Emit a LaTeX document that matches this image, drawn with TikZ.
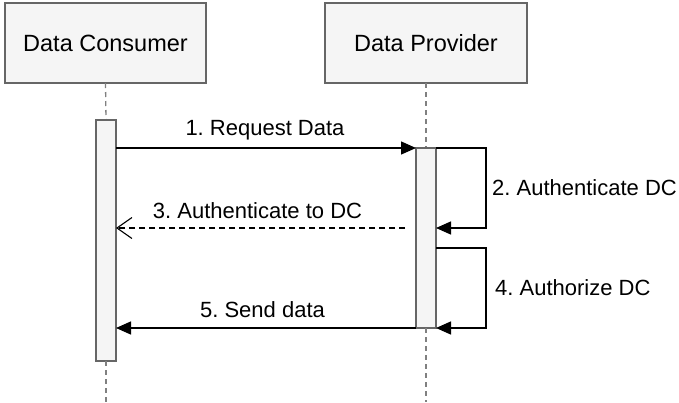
\documentclass[tikz,border=0pt]{standalone}
\usepackage{fontspec}
\setmainfont{Liberation Sans}
\usetikzlibrary{arrows.meta}
\definecolor{boxfill}{HTML}{F5F5F5}
\definecolor{boxline}{HTML}{666666}
\definecolor{lifecol}{HTML}{808080}
\frenchspacing
\begin{document}
\begin{tikzpicture}[x=1pt,y=-1pt,
  actor/.style={draw=boxline,fill=boxfill,line width=1.4pt,minimum height=80pt,inner sep=0pt,outer sep=0pt,font=\fontsize{23.5}{28}\selectfont},
  bar/.style={draw=boxline,fill=boxfill,line width=1.4pt,minimum width=20pt,inner sep=0pt,outer sep=0pt},
  life/.style={draw=lifecol,line width=1.3pt,dash pattern=on 5pt off 4pt},
  msg/.style={draw=black,line width=1.4pt,-{Triangle[length=15pt,width=13pt]}},
  ret/.style={draw=black,line width=1.2pt,dash pattern=on 6pt off 4pt,-{Straight Barb[length=15pt,width=21pt,line width=1.1pt]}},
  lbl/.style={font=\fontsize{22}{26}\selectfont,inner sep=0pt}]
\useasboundingbox (0,0) rectangle (679,402);
% actors
\node[actor,minimum width=201pt] (dc) at (105.5,43) {Data Consumer};
\node[actor,minimum width=202pt] (dp) at (426,43) {Data Provider};
% lifelines (behind bars)
\coordinate (dcend) at (106,402);
\coordinate (dpend) at (426,402);
\coordinate (dcbartop) at (106,120);
\coordinate (dpbartop) at (426,148);
\draw[life] (dc.south) -- (dcbartop);
\draw[life] (dp.south) -- (dpbartop);
% activation bars
\node[bar,minimum height=241pt] (dcbar) at (106,240.5) {};
\node[bar,minimum height=180pt] (dpbar) at (426,238) {};
\draw[life] (dcbar.south) -- (dcend);
\draw[life] (dpbar.south) -- (dpend);
% y levels
\coordinate (y2) at (0,228);
\coordinate (y4) at (0,248);
\coordinate (r3) at (405,228);
% 1. Request Data
\draw[msg] (dcbar.east |- dpbar.north) -- (dpbar.north west);
\node[lbl] (l1) at (265,130) {1. Request Data};
% 2. Authenticate DC
\draw[msg] (dpbar.north east) -- ++(50,0) |- (dpbar.east |- y2);
\node[lbl,anchor=west] (l2) at (492,188) {2. Authenticate DC};
% 3. Authenticate to DC
\draw[ret] (r3) -- (dcbar.east |- y2);
\node[lbl] (l3) at (257.5,211) {3. Authenticate to DC};
% 4. Authorize DC
\draw[msg] (dpbar.east |- y4) -- ++(50,0) |- (dpbar.south east);
\node[lbl,anchor=west] (l4) at (495,288) {4. Authorize DC};
% 5. Send data
\draw[msg] (dpbar.south west) -- (dcbar.east |- dpbar.south);
\node[lbl] (l5) at (262.5,310) {5. Send data};
\end{tikzpicture}
\end{document}
